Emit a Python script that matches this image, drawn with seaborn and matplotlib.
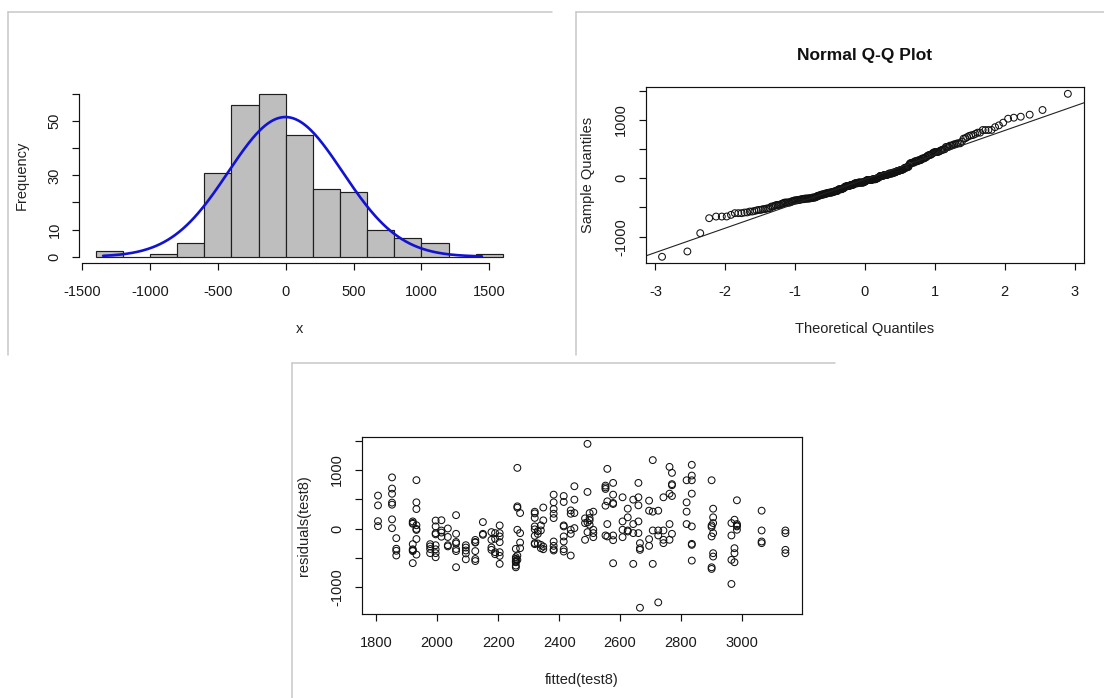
import numpy as np
import matplotlib
matplotlib.use("Agg")
import matplotlib.pyplot as plt
from matplotlib.lines import Line2D
import seaborn as sns
from statistics import NormalDist

# Fitted values and residuals of the model test8 (one line per fitted level)
fitted = [
    1806, 1806, 1806, 1806,
    1852, 1852, 1852, 1852, 1852, 1852, 1852,
    1866, 1866, 1866, 1866,
    1920, 1920, 1920, 1920, 1920, 1920, 1920, 1920,
    1932, 1932, 1932, 1932, 1932, 1932, 1932, 1932,
    1977, 1977, 1977, 1977,
    1995, 1995, 1995, 1995, 1995, 1995, 1995, 1995,
    2014, 2014, 2014, 2014,
    2035, 2035, 2035, 2035,
    2062, 2062, 2062, 2062, 2062, 2062, 2062,
    2094, 2094, 2094, 2094, 2094,
    2125, 2125, 2125, 2125, 2125, 2125,
    2150, 2150, 2150,
    2178, 2178, 2178, 2178,
    2190, 2190, 2190, 2190,
    2205, 2205, 2205, 2205, 2205, 2205, 2205,
    2258, 2258, 2258, 2258, 2258, 2258, 2258, 2258,
    2263, 2263, 2263, 2263, 2263, 2263,
    2272, 2272, 2272, 2272,
    2320, 2320, 2320, 2320, 2320, 2320, 2320, 2320,
    2330, 2330, 2330,
    2340, 2340, 2340, 2340,
    2348, 2348, 2348, 2348,
    2382, 2382, 2382, 2382, 2382, 2382, 2382, 2382, 2382,
    2415, 2415, 2415, 2415, 2415, 2415, 2415, 2415,
    2438, 2438, 2438, 2438, 2438,
    2450, 2450, 2450, 2450,
    2485, 2485, 2485,
    2493, 2493, 2493, 2493,
    2500, 2500, 2500, 2500,
    2512, 2512, 2512, 2512,
    2552, 2552, 2552, 2552, 2552,
    2558, 2558, 2558, 2558,
    2577, 2577, 2577, 2577, 2577, 2577, 2577,
    2608, 2608, 2608, 2608,
    2625, 2625, 2625, 2625,
    2643, 2643, 2643, 2643,
    2660, 2660, 2660, 2660, 2660,
    2665, 2665, 2665, 2665,
    2695, 2695, 2695, 2695,
    2707, 2707, 2707, 2707,
    2725, 2725, 2725, 2725,
    2742, 2742, 2742, 2742,
    2762, 2762, 2762, 2762,
    2770, 2770, 2770, 2770, 2770,
    2818, 2818, 2818, 2818,
    2835, 2835, 2835, 2835, 2835, 2835, 2835, 2835,
    2900, 2900, 2900, 2900, 2900, 2900,
    2905, 2905, 2905, 2905, 2905, 2905,
    2965, 2965, 2965, 2965,
    2975, 2975, 2975, 2975,
    2983, 2983, 2983, 2983, 2983,
    3064, 3064, 3064, 3064,
    3142, 3142, 3142, 3142,
]
resid = [
    565, 398, 130, 45,
    875, 685, 596, 445, 410, 160, 10,
    -160, -340, -375, -455,
    125, 100, 85, -262, -350, -365, -380, -585,
    828, 450, 336, 60, -3, -20, -175, -440,
    -262, -300, -345, -415,
    140, 40, -75, -95, -280, -350, -415, -485,
    145, -30, -65, -135,
    5, -140, -280, -300,
    232, -86, -225, -250, -345, -380, -655,
    -280, -320, -370, -420, -520,
    -190, -225, -235, -380, -515, -550,
    114, -86, -103,
    -57, -188, -319, -359,
    -74, -171, -399, -433,
    57, -74, -131, -228, -399, -462, -598,
    -342, -485, -513, -542, -560, -570, -627, -656,
    1037, 382, 359, -17, -456, -530,
    268, -74, -234, -331,
    290, 262, 185, 40, -10, -120, -245, -262,
    -40, -88, -250,
    57, -29, -274, -331,
    362, 143, -302, -348,
    581, 450, 336, 256, 182, -217, -291, -348, -370,
    558, 456, 57, 40, -131, -217, -348, -388,
    313, 256, -17, -86, -456,
    724, 496, 268, 11,
    177, 97, -188,
    1446, 627, 108, -57,
    268, 182, 143, 68,
    291, -17, -74, -143,
    735, 705, 678, 393, -114,
    1020, 467, 80, -131,
    781, 581, 439, 422, -114, -194, -587,
    536, 125, -17, -143,
    342, 195, -29, -46,
    496, 80, -74, -598,
    781, 536, 399, 125, -74,
    -245, -331, -359, -1345,
    479, 308, -177, -291,
    1169, 291, -29, -598,
    308, -29, -114, -1254,
    536, -29, -188, -245,
    1054, 598, 80, -188,
    952, 760, 741, 558, -86,
    826, 450, 291, 80,
    1089, 906, 826, 598, 40, -257, -274, -542,
    826, 57, 28, -131, -656, -684,
    342, 195, 97, -74, -416, -473,
    97, -114, -530, -940,
    154, -331, -416, -570,
    485, 80, 57, 40, -17,
    308, -29, -217, -245,
    -29, -74, -359, -416,
]

hist_breaks = list(range(-1400, 1601, 200))
hist_xticks = [-1500, -1000, -500, 0, 500, 1000, 1500]
hist_yticks = [0, 10, 20, 30, 40, 50, 60]
hist_ylabels = ["0", "10", "", "30", "", "50", ""]
qq_xticks = [-3, -2, -1, 0, 1, 2, 3]
res_yticks = [-1000, -500, 0, 500, 1000, 1500]
res_ylabels = ["-1000", "", "0", "", "1000", ""]
fit_xticks = [1800, 2000, 2200, 2400, 2600, 2800, 3000]

sns.set_theme(style="ticks")
plt.rcParams["font.family"] = ["Liberation Sans", "DejaVu Sans"]
plt.rcParams.update({
    "axes.linewidth": 0.85,
    "axes.edgecolor": "#111111",
    "xtick.major.width": 0.85,
    "ytick.major.width": 0.85,
    "xtick.major.size": 5.2,
    "ytick.major.size": 5.2,
    "xtick.color": "#111111",
    "ytick.color": "#111111",
    "xtick.labelsize": 10.5,
    "ytick.labelsize": 10.5,
    "axes.labelsize": 10.5,
    "axes.labelcolor": "#222222",
})

W, H = 1104, 698
fig = plt.figure(figsize=(W / 100, H / 100), dpi=100)
fig.patch.set_facecolor("white")


def axes_px(x0, y0, x1, y1):
    return fig.add_axes([x0 / W, 1 - y1 / H, (x1 - x0) / W, (y1 - y0) / H])


def window_edge(x0, y0, x1, y1):
    kw = dict(color="#c8c8c8", lw=1.1, transform=fig.transFigure)
    fig.add_artist(Line2D([x0 / W, x1 / W], [1 - y0 / H, 1 - y0 / H], **kw))
    fig.add_artist(Line2D([x0 / W, x0 / W], [1 - y0 / H, 1 - y1 / H], **kw))


def style_axis(ax, w_px, h_px, rot_y=True):
    ax.tick_params(axis="x", direction="out", pad=10.5, labelcolor="#1a1a1a")
    ax.tick_params(axis="y", direction="out", pad=7.5, labelcolor="#1a1a1a")
    if rot_y:
        for t in ax.get_yticklabels():
            t.set_rotation(90)
            t.set_va("center")
    ax.xaxis.label.set_va("center")
    ax.yaxis.label.set_va("center")
    ax.xaxis.set_label_coords(0.5, -66 / h_px)
    ax.yaxis.set_label_coords(-58 / w_px, 0.5)


for edge in [(8, 12, 552, 355), (576, 12, 1104, 355), (292, 363, 835, 698)]:
    window_edge(*edge)

res = np.array(resid, dtype=float)
fit = np.array(fitted, dtype=float)
n = len(res)

# --- histogram with normal density curve ---
ax1 = axes_px(79.4, 87.5, 519.1, 263.2)
sns.histplot(x=res, bins=hist_breaks, stat="count", color="#bebebe",
             edgecolor="#1f1f1f", linewidth=0.85, alpha=1, ax=ax1)
nd = NormalDist(res.mean(), res.std(ddof=1))
xs = np.linspace(res.min(), res.max(), 300)
ys = np.array([nd.pdf(v) for v in xs]) * n * 200
sns.lineplot(x=xs, y=ys, color="#1212d4", lw=1.9, ax=ax1)
ax1.set_xlim(-1520, 1720)
ax1.set_ylim(-2.4, 62.4)
ax1.set_xticks(hist_xticks)
ax1.set_xticklabels([str(v) for v in hist_xticks])
ax1.set_yticks(hist_yticks)
ax1.set_yticklabels(hist_ylabels)
ax1.spines["top"].set_visible(False)
ax1.spines["right"].set_visible(False)
ax1.spines["left"].set_bounds(0, 60)
ax1.spines["bottom"].set_bounds(-1500, 1500)
ax1.set_xlabel("x")
ax1.set_ylabel("Frequency")
style_axis(ax1, 519.1 - 79.4, 263.2 - 87.5)

# --- normal Q-Q plot ---
std_norm = NormalDist()
probs = (np.arange(1, n + 1) - 0.5) / n
theo = np.array([std_norm.inv_cdf(p) for p in probs])
samp = np.sort(res)
ax2 = axes_px(645.6, 87.3, 1084.3, 263.3)
sns.scatterplot(x=theo, y=samp, marker="o", s=24, facecolor="none",
                edgecolor="#111111", linewidth=0.75, ax=ax2)
q1, q3 = np.quantile(res, [0.25, 0.75])
t1, t3 = std_norm.inv_cdf(0.25), std_norm.inv_cdf(0.75)
ax2.axline((t1, q1), slope=(q3 - q1) / (t3 - t1), color="#222222", lw=0.8)
ax2.set_xlim(-3.14, 3.14)
span = samp[-1] - samp[0]
ax2.set_ylim(samp[0] - 0.04 * span, samp[-1] + 0.04 * span)
ax2.set_xticks(qq_xticks)
ax2.set_xticklabels([str(v) for v in qq_xticks])
ax2.set_yticks(res_yticks)
ax2.set_yticklabels(res_ylabels)
ax2.set_xlabel("Theoretical Quantiles")
ax2.set_ylabel("Sample Quantiles")
ax2.set_title("Normal Q-Q Plot", fontsize=12.5, fontweight="bold", pad=20,
              color="#111111")
style_axis(ax2, 1084.3 - 645.6, 263.3 - 87.3)

# --- residuals vs fitted ---
ax3 = axes_px(361.7, 437.3, 801.7, 614.3)
sns.scatterplot(x=fit, y=res, marker="o", s=24, facecolor="none",
                edgecolor="#111111", linewidth=0.75, ax=ax3)
fspan = fit.max() - fit.min()
ax3.set_xlim(fit.min() - 0.04 * fspan, fit.max() + 0.04 * fspan)
ax3.set_ylim(res.min() - 0.04 * span, res.max() + 0.04 * span)
ax3.set_xticks(fit_xticks)
ax3.set_xticklabels([str(v) for v in fit_xticks])
ax3.set_yticks(res_yticks)
ax3.set_yticklabels(res_ylabels)
ax3.set_xlabel("fitted(test8)")
ax3.set_ylabel("residuals(test8)")
style_axis(ax3, 801.7 - 361.7, 614.3 - 437.3)

fig.savefig("out.png", dpi=100, facecolor="white")
